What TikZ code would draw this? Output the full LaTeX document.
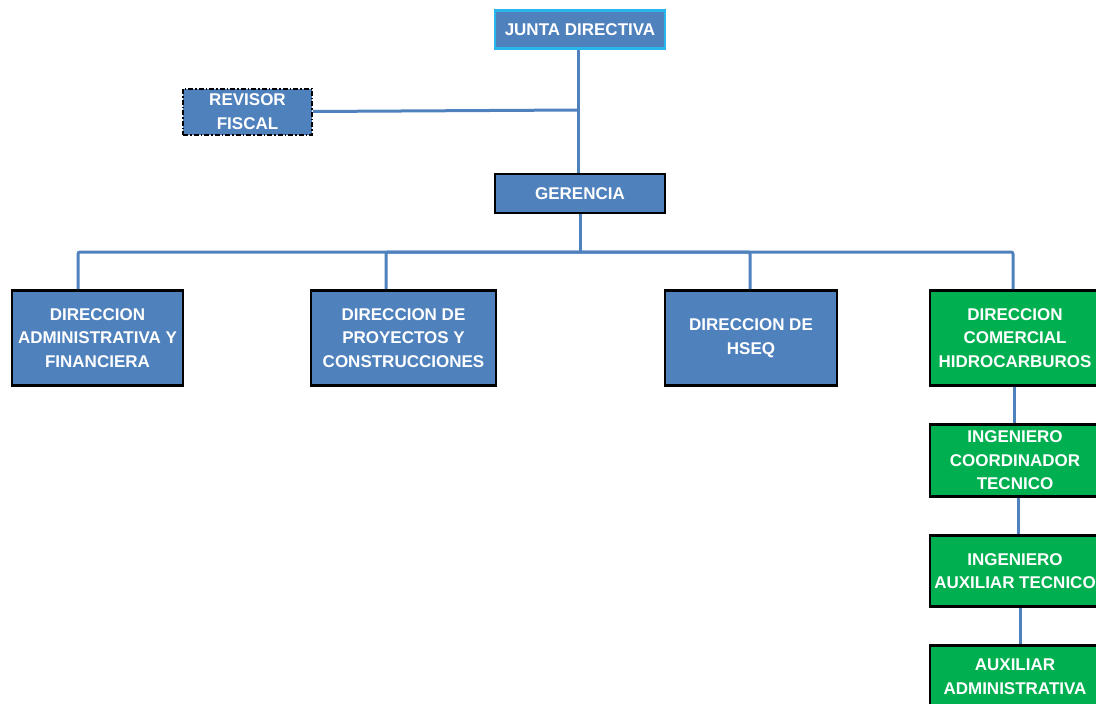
\documentclass[tikz,border=0pt]{standalone}
\usepackage{fontspec}
\setmainfont{Liberation Sans}
\definecolor{boxblue}{HTML}{4F81BD}
\definecolor{boxgreen}{HTML}{00B050}
\definecolor{cyanb}{HTML}{29B6EA}
\begin{document}
\begin{tikzpicture}[x=1pt,y=-1pt,
  box/.style={draw=black,line width=2.8pt,fill=boxblue,text=white,align=center,
    font=\fontsize{17}{23.5}\selectfont\bfseries,inner sep=0pt},
  gbox/.style={box,fill=boxgreen},
  conn/.style={draw=boxblue,line width=3pt,rounded corners=2pt}]
\useasboundingbox (0,0) rectangle (1096,704);
\node[box,draw=cyanb,minimum width=170pt,minimum height=38pt] (jun) at (580,29.5) {JUNTA DIRECTIVA};
\node[box,dash pattern=on 5pt off 2pt on 1.5pt off 2pt,line width=2pt,minimum width=129pt,minimum height=46pt] (rev) at (247.5,111.5) {REVISOR\\FISCAL};
\node[box,minimum width=170pt,minimum height=39pt] (ger) at (580,193.5) {GERENCIA};
\node[box,minimum width=171pt,minimum height=95pt] (adm) at (97.5,338) {DIRECCION\\ADMINISTRATIVA Y\\FINANCIERA};
\node[box,minimum width=185pt,minimum height=95pt] (proy) at (403.5,338) {DIRECCION DE\\PROYECTOS Y\\CONSTRUCCIONES};
\node[box,minimum width=172pt,minimum height=95pt] (hseq) at (751,338) {DIRECCION DE\\HSEQ};
\node[gbox,minimum width=170pt,minimum height=95pt] (com) at (1015,338) {DIRECCION\\COMERCIAL\\HIDROCARBUROS};
\node[gbox,minimum width=170pt,minimum height=72pt] (icoord) at (1015,460.5) {INGENIERO\\COORDINADOR\\TECNICO};
\node[gbox,minimum width=170pt,minimum height=71pt] (iaux) at (1015,571) {INGENIERO\\AUXILIAR TECNICO};
\node[gbox,minimum width=170pt,minimum height=62pt] (auxadm) at (1015,676.5) {AUXILIAR\\ADMINISTRATIVA};
\coordinate (j1) at (578,110);
\coordinate (bus) at (580,252);
\draw[conn] ([xshift=-2pt]jun.south) -- ([xshift=-2pt]ger.north);
\draw[conn] (rev.east) -- (j1);
\draw[conn] (ger.south) -- (bus);
\draw[conn] (bus) -| ([xshift=-19.5pt]adm.north);
\draw[conn] (bus) -| ([xshift=-17.5pt]proy.north);
\draw[conn] (bus) -| ([xshift=-1pt]hseq.north);
\draw[conn] (bus) -| ([xshift=-2pt]com.north);
\draw[conn] ([xshift=-1pt]com.south) -- ([xshift=-1pt]icoord.north);
\draw[conn] ([xshift=3pt]icoord.south) -- ([xshift=3pt]iaux.north);
\draw[conn] ([xshift=5pt]iaux.south) -- ([xshift=5pt]auxadm.north);
\end{tikzpicture}
\end{document}
